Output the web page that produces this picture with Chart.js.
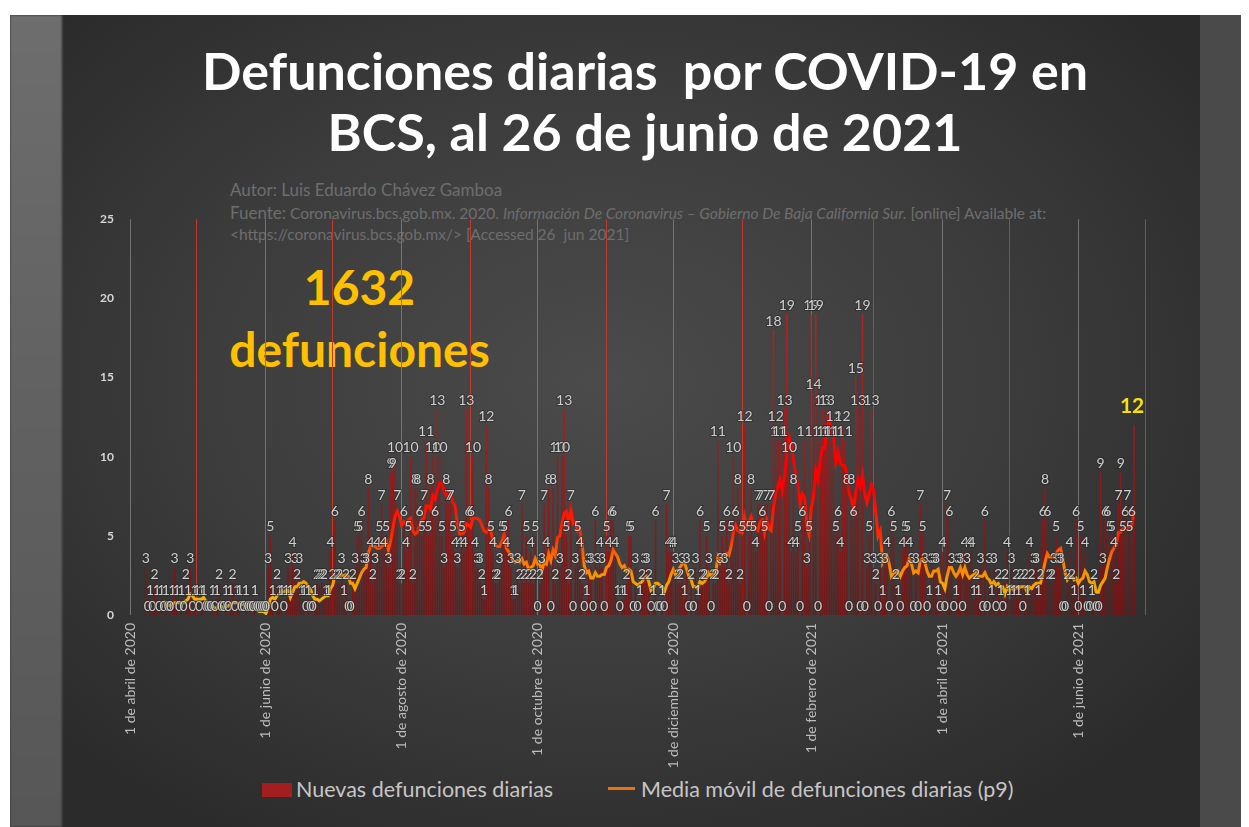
<!DOCTYPE html>
<html>
<head>
<meta charset="utf-8">
<script src="https://cdn.jsdelivr.net/npm/chart.js@4/dist/chart.umd.min.js"></script>
<style>
  body { margin: 0; background: #fff; width: 1249px; height: 827px; position: relative; overflow: hidden; font-family: Lato, "Open Sans", sans-serif; }
  #marco { position: absolute; left: 10px; top: 15px; width: 1231px; height: 812px; overflow: hidden;
           background: radial-gradient(ellipse 60% 65% at 48% 45%, #4b4b4b 0%, #3c3c3c 55%, #2b2b2b 100%); }
  #izq { position: absolute; left: 0; top: 0; width: 52px; height: 100%;
         background: linear-gradient(180deg, #6e6e6e 0%, #626262 45%, #575757 100%); filter: blur(1px); }
  #der { position: absolute; right: 0; top: 0; width: 41px; height: 100%; background: #4a4a4a; }
  .txt { position: absolute; white-space: nowrap; }
  #titulo { left: 0; width: 1290px; top: 40px; text-align: center; color: #fff; font-weight: 700; font-size: 52px; line-height: 61px; }
  .fuente { color: #6e6e6e; font-size: 15.5px; }
  #total { left: 222px; width: 275px; top: 256px; text-align: center; color: #ffc000; font-weight: 700; font-size: 48px; line-height: 62px; }
  #grafica { position: absolute; left: 69px; top: 205px; width: 1101px; height: 570px; }
  .leyenda { color: #c6c6c6; font-size: 21.5px; top: 776px; }
</style>
</head>
<body>
<div id="marco"><div id="izq"></div><div id="der"></div></div>

<div id="titulo" class="txt">Defunciones diarias&nbsp; por COVID-19 en<br>BCS, al 26 de junio de 2021</div>

<div class="txt fuente" style="left:230px; top:179px; font-size:17px;">Autor: Luis Eduardo Chávez Gamboa</div>
<div class="txt fuente" style="left:230px; top:202px;"><span style="font-size:17px;">Fuente:</span> Coronavirus.bcs.gob.mx. 2020. <i>Información De Coronavirus – Gobierno De Baja California Sur.</i> [online] Available at:</div>
<div class="txt fuente" style="left:230px; top:225px;">&lt;https://coronavirus.bcs.gob.mx/&gt; [Accessed 26&nbsp; jun 2021]</div>

<div id="total" class="txt">1632<br>defunciones</div>

<div id="grafica"><canvas id="c"></canvas></div>

<div class="txt leyenda" style="left:262px;"><span style="display:inline-block;width:30px;height:14px;background:#a31e1e;vertical-align:0px;margin-right:4px;"></span>Nuevas defunciones diarias</div>
<div class="txt leyenda" style="left:608px;"><span style="display:inline-block;width:27px;height:3px;background:#ec7014;vertical-align:7px;margin-right:6px;"></span>Media móvil de defunciones diarias (p9)</div>

<script>
// defunciones diarias por mes (1 abr 2020 - 26 jun 2021)
var abr2020 = [null,null,null,null,null,null,null,3,0,1,0,2,1,0,1,0,1,0,0,1,3,1,0,1,0,2,1,3,0,1];
var may2020 = [1,0,1,1,0,0,0,1,0,1,2,0,0,1,0,1,2,0,1,1,0,0,1,0,0,0,1,0,0,0,0];
var jun2020 = [0,3,5,1,0,2,1,1,0,1,3,1,4,3,2,3,1,1,0,1,0,0,1,2,2,2,2,1,1,4];
var jul2020 = [2,6,2,2,3,1,2,0,0,2,3,5,5,6,3,3,8,4,2,3,4,5,7,4,5,3,9,9,10,7,2];
var ago2020 = [2,6,4,5,10,2,8,8,6,5,7,11,5,8,10,6,13,10,5,3,8,7,7,5,4,3,4,5,4,13,6];
var sep2020 = [6,10,4,3,3,2,1,12,8,5,4,2,2,3,5,5,4,6,3,1,1,3,2,7,2,5,2,4,2,5];
var oct2020 = [0,2,3,7,4,8,0,8,2,10,3,10,13,5,2,7,0,3,5,4,2,0,1,3,3,0,6,3,4,3,0];
var nov2020 = [5,4,6,6,4,1,0,1,1,2,5,5,0,3,0,1,2,3,3,2,0,1,6,0,0,1,0,7,4,4];
var dic2020 = [4,3,2,2,3,1,3,0,2,0,3,1,6,2,2,5,3,0,2,2,11,3,5,3,6,2,5,10,6,8,2];
var ene2021 = [5,12,0,5,8,5,4,7,7,6,5,7,0,7,18,12,11,11,0,13,19,10,4,8,4,5,0,6,11,3,5];
var feb2021 = [19,14,19,0,11,13,11,13,11,11,12,5,6,4,12,11,8,0,8,6,15,13,0,19,0,3,5,13];
var mar2021 = [3,2,0,3,1,3,4,0,6,5,2,1,0,4,5,5,4,3,0,3,0,7,5,3,0,1,3,3,3,1,0];
var abr2021 = [4,0,7,6,3,0,1,3,3,0,4,3,4,4,1,2,1,3,0,6,0,3,1,3,0,2,1,0,2,4];
var may2021 = [1,3,1,2,1,2,0,2,1,4,2,3,3,1,2,6,8,6,2,2,3,5,3,3,0,0,2,4,2,1,6];
var jun2021 = [0,5,1,4,0,0,1,2,0,0,9,3,6,6,5,5,4,2,7,9,5,6,7,5,6,12];

var meses = ['enero','febrero','marzo','abril','mayo','junio','julio','agosto','septiembre','octubre','noviembre','diciembre'];
var etiquetasEje = ['1 de abril de 2020','1 de junio de 2020','1 de agosto de 2020','1 de octubre de 2020',
                    '1 de diciembre de 2020','1 de febrero de 2021','1 de abril de 2021','1 de junio de 2021'];
var periodoMedia = 9;

var diarias = [].concat(abr2020, may2020, jun2020, jul2020, ago2020, sep2020, oct2020, nov2020,
                        dic2020, ene2021, feb2021, mar2021, abr2021, may2021, jun2021);

// categorias: un dia por barra, 1 abr 2020 a 1 jul 2021
var dias = [];
var f = new Date(2020, 3, 1);
while (f <= new Date(2021, 6, 1)) {
  dias.push(f.getDate() + ' de ' + meses[f.getMonth()] + ' de ' + f.getFullYear());
  f.setDate(f.getDate() + 1);
}
while (diarias.length < dias.length) diarias.push(null);

// media movil de 9 periodos (como la linea de tendencia de Excel)
var media = diarias.map(function (v, i) {
  if (i < periodoMedia - 1) return null;
  var s = 0;
  for (var k = i - periodoMedia + 1; k <= i; k++) {
    if (diarias[k] === null) return null;
    s += diarias[k];
  }
  return s / periodoMedia;
});

function esInicioMes(i) { return dias[i] && dias[i].indexOf('1 de ') === 0; }

var etiquetas = {
  id: 'etiquetas',
  afterDatasetsDraw: function (chart) {
    var meta = chart.getDatasetMeta(1);
    var ctx = chart.ctx;
    var ultimo = -1;
    diarias.forEach(function (v, i) { if (v !== null) ultimo = i; });
    ctx.save();
    ctx.textAlign = 'center';
    ctx.textBaseline = 'bottom';
    meta.data.forEach(function (bar, i) {
      var v = diarias[i];
      if (v === null) return;
      if (i === ultimo) {
        ctx.font = 'bold 21px Lato';
        ctx.fillStyle = '#f6e20a';
        ctx.fillText(String(v), bar.x - 2, bar.y - 8);
        return;
      }
      ctx.font = '14px Lato';
      ctx.lineWidth = 2;
      ctx.strokeStyle = 'rgba(40,40,40,0.55)';
      ctx.strokeText(String(v), bar.x, bar.y - 2);
      ctx.fillStyle = '#cfcfcf';
      ctx.fillText(String(v), bar.x, bar.y - 2);
    });
    ctx.restore();
  }
};

new Chart(document.getElementById('c'), {
  type: 'bar',
  data: {
    labels: dias,
    datasets: [{
      type: 'line',
      label: 'Media móvil de defunciones diarias (p9)',
      data: media,
      order: 0,
      borderWidth: 3,
      pointRadius: 0,
      tension: 0,
      borderColor: function (context) {
        var chart = context.chart;
        if (!chart.chartArea) return '#ff8c00';
        var y = chart.scales.y;
        var g = chart.ctx.createLinearGradient(0, y.getPixelForValue(0), 0, y.getPixelForValue(8));
        g.addColorStop(0, '#e6c41c');
        g.addColorStop(0.22, '#f2a800');
        g.addColorStop(0.42, '#ff7a00');
        g.addColorStop(0.62, '#ff2a00');
        g.addColorStop(1, '#ff0000');
        return g;
      }
    }, {
      label: 'Nuevas defunciones diarias',
      data: diarias,
      order: 1,
      barPercentage: 0.7,
      categoryPercentage: 1,
      backgroundColor: function (context) {
        var chart = context.chart;
        if (!chart.chartArea) return '#a31e1e';
        var y = chart.scales.y;
        var g = chart.ctx.createLinearGradient(0, y.getPixelForValue(0), 0, y.getPixelForValue(20));
        g.addColorStop(0, 'rgba(120,18,18,0.85)');
        g.addColorStop(1, 'rgba(205,30,30,0.85)');
        return g;
      }
    }]
  },
  options: {
    responsive: true,
    maintainAspectRatio: false,
    animation: false,
    layout: { padding: { top: 8, right: 8 } },
    plugins: { legend: { display: false }, tooltip: { enabled: false } },
    scales: {
      x: {
        afterFit: function (scale) { scale.height = 160; },
        border: { display: false },
        grid: {
          offset: false,
          drawTicks: false,
          lineWidth: function (c) { return esInicioMes(c.index) ? 1 : 0; },
          color: function (c) {
            if (!esInicioMes(c.index)) return 'rgba(0,0,0,0)';
            return etiquetasEje.indexOf(dias[c.index]) >= 0 ? '#747474' : '#c03a2a';
          }
        },
        ticks: {
          autoSkip: false,
          maxRotation: 90,
          minRotation: 90,
          padding: 8,
          color: '#bcbcbc',
          font: { size: 14, family: 'Lato' },
          callback: function (v, i) { return etiquetasEje.indexOf(dias[i]) >= 0 ? dias[i] : ''; }
        }
      },
      y: {
        min: 0,
        max: 25,
        afterFit: function (scale) { scale.width = 60; },
        border: { display: false },
        grid: { display: false },
        ticks: { stepSize: 5, padding: 7, color: '#d6d6d6', font: { size: 12, weight: 'bold', family: 'Lato' } }
      }
    }
  },
  plugins: [etiquetas]
});
</script>
</body>
</html>
